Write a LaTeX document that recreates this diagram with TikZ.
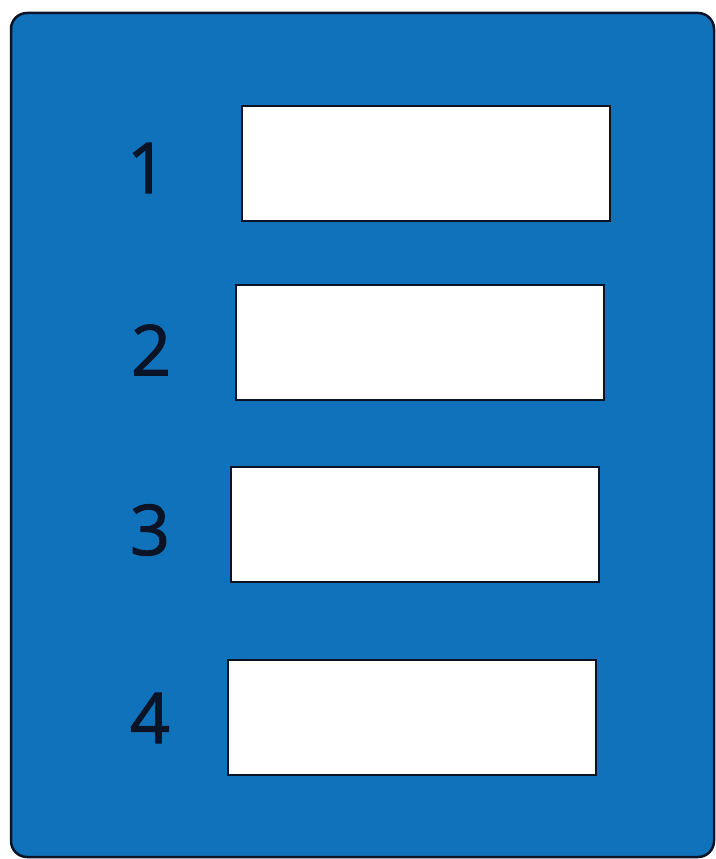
\documentclass[tikz,border=0pt]{standalone}
\usepackage{fontspec}
\setmainfont{Open Sans}
\newfontfamily\numfont{Open Sans}[FakeBold=1.6]
\usepackage{tikz}
\usetikzlibrary{positioning}
\definecolor{panelblue}{HTML}{1172BC}
\definecolor{inkdark}{HTML}{0B1426}
\tikzset{
    formpanel/.style={draw=inkdark, fill=panelblue, rounded corners=16pt, line width=2.5pt},
    formfield/.style={draw=inkdark, fill=white, line width=2pt, minimum width=368pt, minimum height=115pt, inner sep=0pt},
    formnum/.style={text=inkdark, font=\numfont\fontsize{70}{80}\selectfont, inner sep=0pt}
}

\begin{document}
\begin{tikzpicture}[x=1pt, y=-1pt]
        \useasboundingbox[fill=white] (0,0) rectangle (715,859);
        \draw[formpanel] (11,13) rectangle (714,857);

        \node[formfield] (field1) at (426,163.5) {};
        \node[formfield] (field2) at (420,342.5) {};
        \node[formfield] (field3) at (415,524.5) {};
        \node[formfield] (field4) at (412,717.5) {};

        \node[formnum] (num1) at (147,168) {1};
        \node[formnum] (num2) at (151,350) {2};
        \node[formnum] (num3) at (150,530) {3};
        \node[formnum] (num4) at (150,718) {4};
    \end{tikzpicture}
\end{document}
